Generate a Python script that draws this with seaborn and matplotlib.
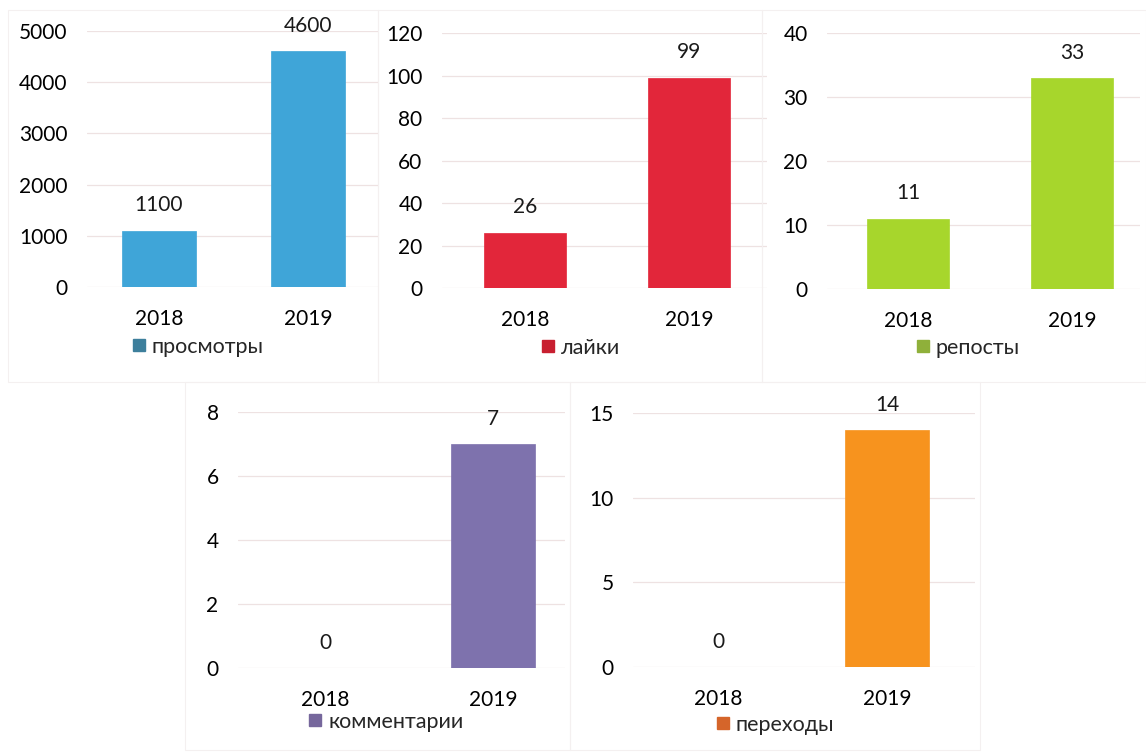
import matplotlib
matplotlib.use('Agg')
import matplotlib.pyplot as plt
import seaborn as sns
from matplotlib.lines import Line2D
from matplotlib.patches import Rectangle

# data
years = ['2018', '2019']
views = [1100, 4600]
likes = [26, 99]
reposts = [11, 33]
comments = [0, 7]
clicks = [0, 14]
series_names = ['просмотры', 'лайки', 'репосты', 'комментарии', 'переходы']
y_max = [5000, 120, 40, 8, 15]
y_step = [1000, 20, 10, 2, 5]

colors = ['#3fa5d8', '#e2263a', '#a7d62c', '#7e72ad', '#f7931e']
legend_colors = ['#3d7f9c', '#c81f30', '#8fb03a', '#76679c', '#d5652a']

sns.set_theme(style='white')
plt.rcParams['font.family'] = ['Lato', 'DejaVu Sans']

W, H = 1146, 755
fig = plt.figure(figsize=(W / 100, H / 100), dpi=100)

# panel layout in pixels: left, right, centre 2018, centre 2019, y of 0, y of top
layout = [
    (87, 378, 159, 308, 287, 31),
    (442, 767, 525, 689, 288, 33),
    (827, 1140, 908, 1072, 289, 33),
    (238, 565, 325, 493, 668, 412),
    (633, 975, 718, 887, 667, 413),
]
legend_pos = [(197, 347), (580, 348), (967, 348), (385, 722), (774, 725)]
frames = [(8, 10, 378, 382), (378, 10, 762, 382), (762, 10, 1146, 382),
          (185, 382, 570, 750), (570, 382, 980, 750)]

for fx0, fy0, fx1, fy1 in frames:
    fig.patches.append(Rectangle((fx0 / W, 1 - fy1 / H), (fx1 - fx0) / W, (fy1 - fy0) / H,
                                 transform=fig.transFigure, fill=False,
                                 edgecolor='#f4f0f0', lw=0.8))

all_values = [views, likes, reposts, comments, clicks]

for i, vals in enumerate(all_values):
    left, right, c0, c1, y0, ytop = layout[i]
    ax = fig.add_axes([left / W, 1 - y0 / H, (right - left) / W, (y0 - ytop) / H])
    sns.barplot(x=years, y=vals, ax=ax, color=colors[i], width=0.5,
                saturation=1, edgecolor=colors[i], linewidth=0.5)
    sp = c1 - c0
    ax.set_xlim(-(c0 - left) / sp, 1 + (right - c1) / sp)
    ax.set_ylim(0, y_max[i])
    ax.set_yticks(range(0, y_max[i] + 1, y_step[i]))
    ax.yaxis.grid(True, color='#eee2e2', lw=0.9)
    ax.set_axisbelow(True)
    sns.despine(ax=ax, left=True, bottom=True)
    ax.tick_params(axis='y', length=0, pad=14, labelsize=15, labelcolor='#000000')
    ax.tick_params(axis='x', length=0, pad=16, labelsize=15, labelcolor='#000000')
    ax.set_xlabel('')
    ax.set_ylabel('')
    ax.bar_label(ax.containers[0], labels=[str(v) for v in vals], padding=11,
                 fontsize=15, color='#1a1a1a')
    handle = Line2D([], [], marker='s', ls='', markersize=9,
                    markerfacecolor=legend_colors[i], markeredgecolor=legend_colors[i])
    lx, ly = legend_pos[i]
    fig.legend([handle], [series_names[i]], loc='center',
               bbox_to_anchor=(lx / W, 1 - ly / H), bbox_transform=fig.transFigure,
               frameon=False, fontsize=15.5, handletextpad=0.2, handlelength=0.8,
               borderpad=0, borderaxespad=0)

fig.savefig('out.png', dpi=100)
